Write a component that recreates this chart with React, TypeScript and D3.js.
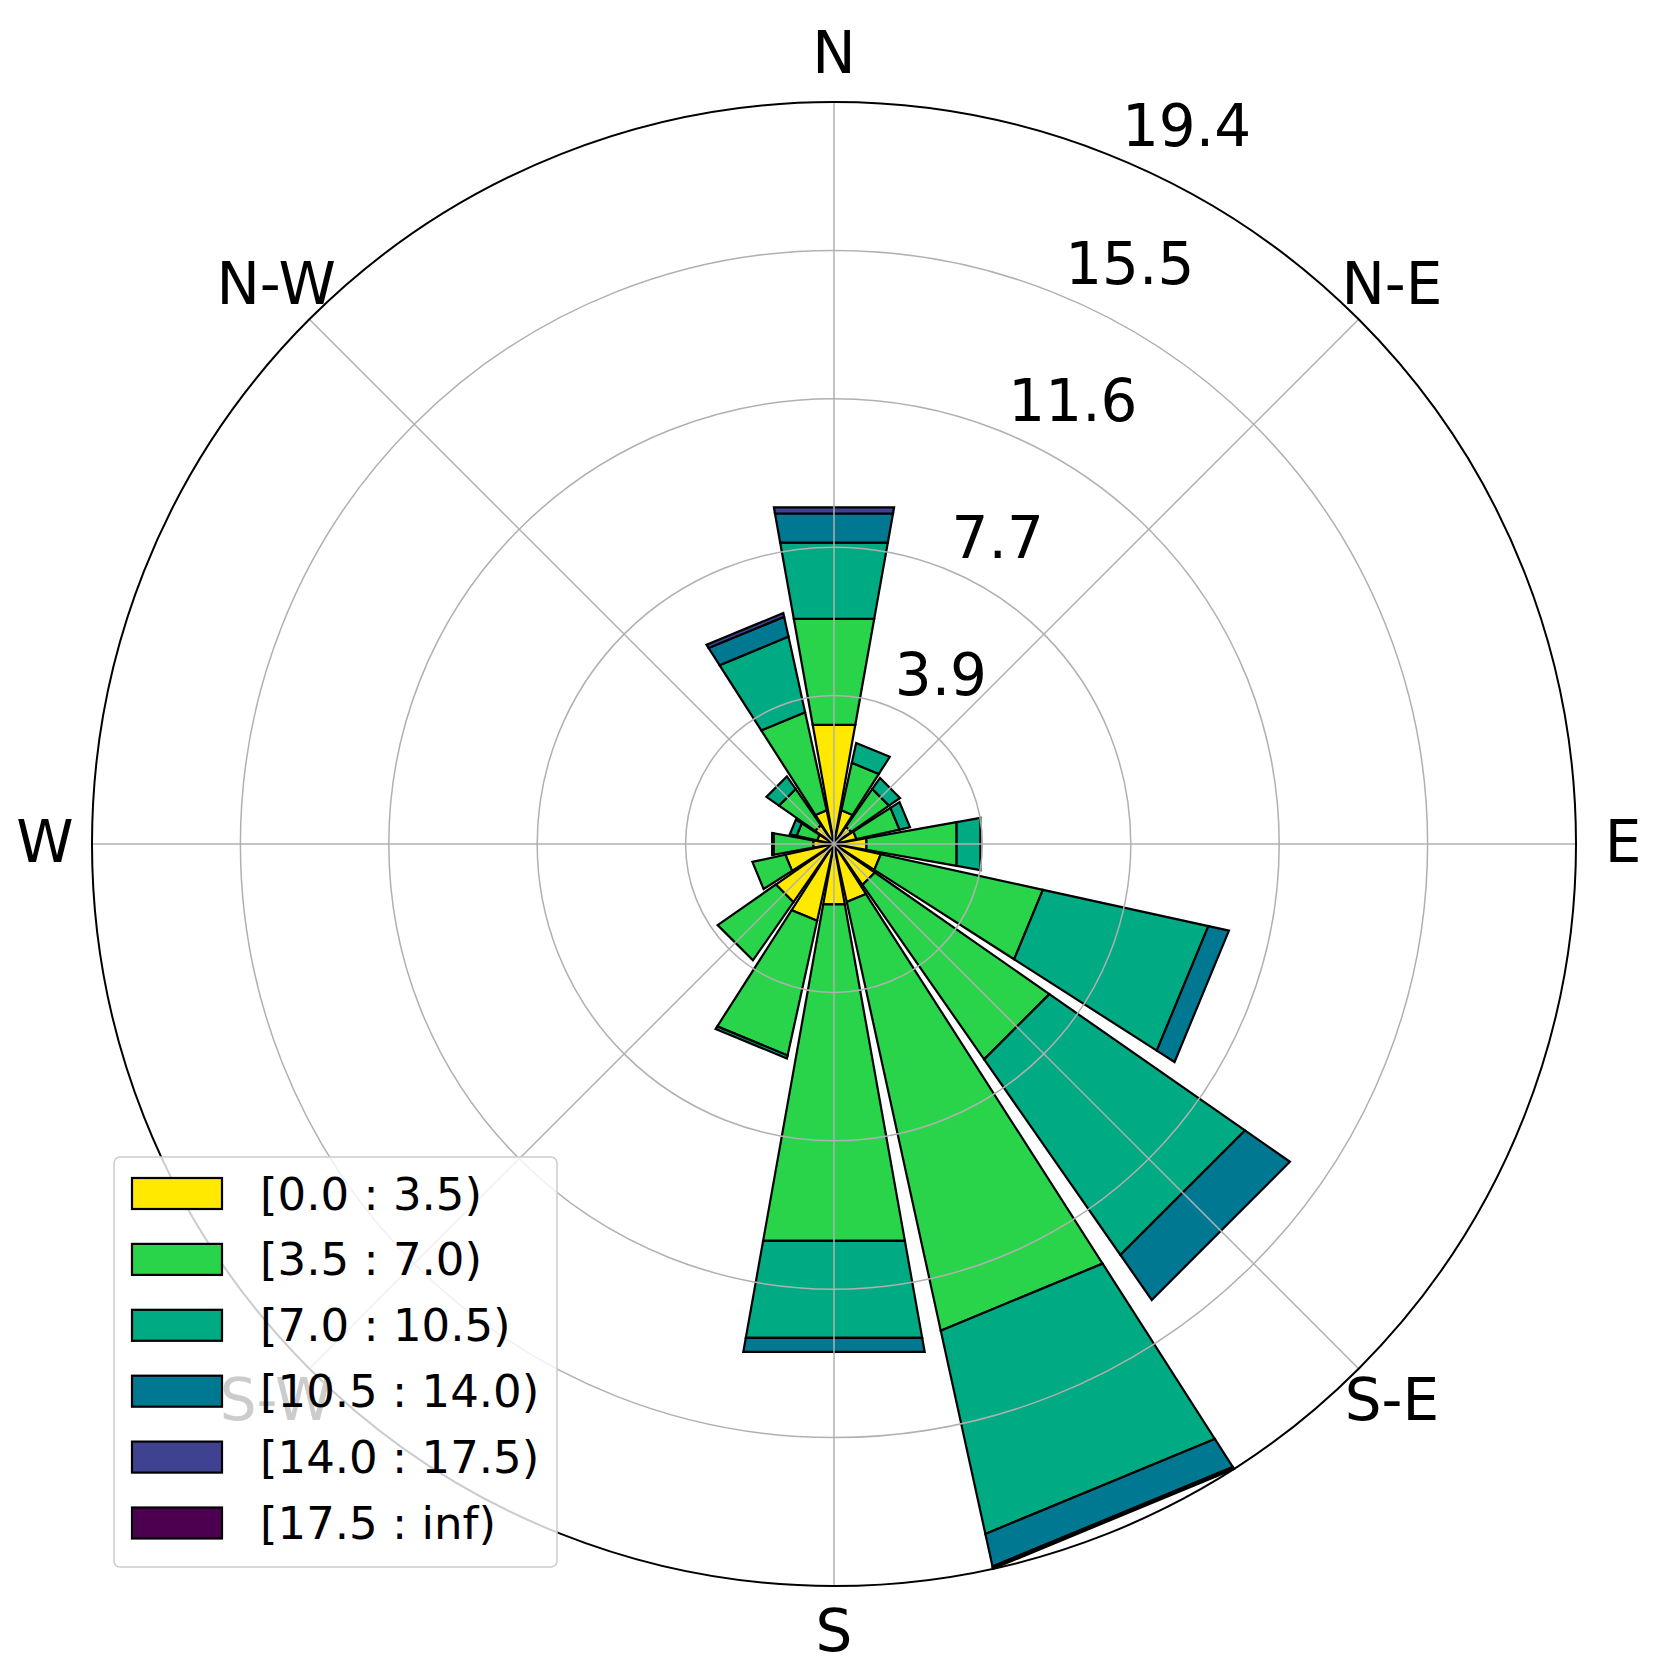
import React from "react";
import * as d3 from "d3";

// ---- data ----
const directions = ["N","NNE","NE","ENE","E","ESE","SE","SSE","S","SSW","SW","WSW","W","WNW","NW","NNW"];
const binLabels = ["[0.0 : 3.5)","[3.5 : 7.0)","[7.0 : 10.5)","[10.5 : 14.0)","[14.0 : 17.5)","[17.5 : inf)"];
const binColors = ["#ffe900","#2ad44a","#00aa82","#007891","#3e4290","#4c0050"];
const bin0 = [3.16,0.90,0.55,0.60,0.86,1.25,1.30,1.55,1.60,2.05,1.85,1.30,0.55,0.45,0.60,0.90];
const bin1 = [2.81,1.27,1.20,1.15,2.39,4.33,5.55,11.45,8.92,3.60,1.85,0.88,1.05,0.55,1.15,2.62];
const bin2 = [2.02,0.53,0.35,0.28,0.63,4.42,6.22,5.43,2.57,0.08,0,0,0.04,0.18,0.40,2.02];
const bin3 = [0.77,0,0,0,0,0.55,1.43,0.87,0.37,0,0,0,0,0,0,0.53];
const bin4 = [0.16,0,0,0,0,0,0,0.03,0,0,0,0,0,0,0,0.10];
const bin5 = [0,0,0,0,0,0,0,0.03,0,0,0,0,0,0,0,0];
const bins = [bin0,bin1,bin2,bin3,bin4,bin5];
const thetaLabels = ["N","N-E","E","S-E","S","S-W","W","N-W"];

const W = 1654, H = 1670;
const cx = 834, cy = 844, R = 742;
const FONT = "DejaVu Sans, Liberation Sans, sans-serif";

export default function App() {
  const totals = directions.map((_, i) => d3.sum(bins, b => b[i]));
  const rmax = d3.max(totals) as number;
  const r = d3.scaleLinear().domain([0, rmax]).range([0, R]);
  const step = (2 * Math.PI) / directions.length;
  const ang = d3.scaleLinear().domain([0, directions.length]).range([0, 2 * Math.PI]);
  const half = (step * 0.9) / 2;
  const pt = (t: number, rr: number): [number, number] => [cx + rr * Math.sin(t), cy - rr * Math.cos(t)];
  const ticks = d3.range(1, 6).map(k => (rmax * k) / 5);

  const polys: { d: string; fill: string; key: string }[] = [];
  directions.forEach((_, i) => {
    let off = 0;
    const t = ang(i);
    bins.forEach((b, j) => {
      const v = b[i];
      if (v > 0) {
        const p = [pt(t - half, r(off)), pt(t + half, r(off)), pt(t + half, r(off + v)), pt(t - half, r(off + v))];
        polys.push({ d: d3.line()(p as any) + "Z", fill: binColors[j], key: `${i}-${j}` });
      }
      off += v;
    });
  });

  const rlAngle = Math.PI / 8;
  const legX = 114, legY = 1157, legW = 443, legH = 410;

  return (
    <svg width={W} height={H} style={{ position: "absolute", left: 0, top: 0, background: "#fff" }} fontFamily={FONT}>
      <rect x={0} y={0} width={W} height={H} fill="#fff" />
      {polys.map(p => (
        <path key={p.key} d={p.d} fill={p.fill} stroke="#000" strokeWidth={2.2} strokeLinejoin="miter" />
      ))}
      {/* grid */}
      {ticks.slice(0, 4).map((t, k) => (
        <circle key={k} cx={cx} cy={cy} r={r(t)} fill="none" stroke="#b0b0b0" strokeWidth={1.5} />
      ))}
      {d3.range(8).map(k => {
        const [x2, y2] = pt((k * Math.PI) / 4, R);
        return <line key={k} x1={cx} y1={cy} x2={x2} y2={y2} stroke="#b0b0b0" strokeWidth={1.5} />;
      })}
      <circle cx={cx} cy={cy} r={R} fill="none" stroke="#000" strokeWidth={2} />
      {/* radial labels */}
      {ticks.map((t, k) => {
        const [x, y] = pt(rlAngle, r(t));
        return (
          <text key={k} x={x + 4} y={y - 12} fontSize={58} fill="#000">
            {t.toFixed(1)}
          </text>
        );
      })}
      {/* direction labels */}
      {thetaLabels.map((l, k) => {
        const [x, y] = pt((k * Math.PI) / 4, R + 47);
        return (
          <text key={l} x={x} y={y + 17.6} fontSize={58} textAnchor="middle" fill="#000">
            {l}
          </text>
        );
      })}
      {/* legend */}
      <rect x={legX} y={legY} width={legW} height={legH} rx={6} fill="#fff" fillOpacity={0.8} stroke="#cccccc" strokeWidth={1.5} />
      {binLabels.map((l, j) => {
        const y0 = 1178 + j * 65.9;
        return (
          <g key={l}>
            <rect x={132} y={y0} width={90} height={31} fill={binColors[j]} stroke="#000" strokeWidth={2.2} />
            <text x={260} y={y0 + 31.5} fontSize={45} fill="#000">
              {l}
            </text>
          </g>
        );
      })}
    </svg>
  );
}
